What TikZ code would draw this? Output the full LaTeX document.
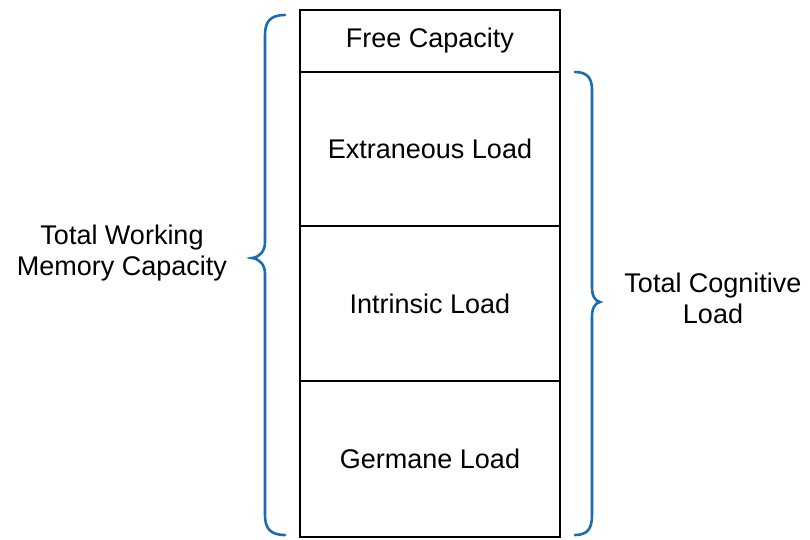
\documentclass[tikz,border=0pt]{standalone}
\usepackage{fontspec}
\setmainfont{Liberation Sans}
\usetikzlibrary{positioning}
\definecolor{braceblue}{RGB}{28,108,178}

\tikzset{
  layer/.style={draw, line width=1.8pt, minimum width=260pt, inner sep=0pt, outer sep=0pt, font=\fontsize{27}{31}\selectfont},
  bracket/.style={draw=braceblue, line width=2.6pt, line cap=round},
  sidetext/.style={align=center, font=\fontsize{27}{31}\selectfont}
}

\begin{document}
\begin{tikzpicture}[x=1pt,y=-1pt]
		%%%%% START %%%%%
		\useasboundingbox (0,0) rectangle (810,539);
		
		% the stack of loads
		\node[layer, minimum height=62pt, anchor=north west] (free) at (300,10) {Free Capacity};
		\node[layer, minimum height=154pt, below=0pt of free] (extr) {Extraneous Load};
		\node[layer, minimum height=155pt, below=0pt of extr] (intr) {Intrinsic Load};
		\node[layer, minimum height=156pt, below=0pt of intr] (germ) {Germane Load};
		
		% labels
		\node[sidetext] (wmc) at (122,253) {Total Working\\Memory Capacity};
		\node[sidetext] (tcl) at (713,298) {Total Cognitive\\Load};
		
		% left brace
		\draw[bracket] (285,15) .. controls (270,15) and (265,22) .. (265,35) -- (265,242)
			.. controls (265,251) and (260,257) .. (252,258)
			.. controls (260,259) and (265,265) .. (265,274) -- (265,515)
			.. controls (265,528) and (270,535) .. (285,535);
		
		% right brace
		\draw[bracket] (575,72) .. controls (588,72) and (592,79) .. (592,90) -- (592,287)
			.. controls (592,296) and (595,301) .. (600,302)
			.. controls (595,303) and (592,308) .. (592,317) -- (592,515)
			.. controls (592,528) and (588,535) .. (575,535);
		
		%%%%% END %%%%%
\end{tikzpicture}
\end{document}
